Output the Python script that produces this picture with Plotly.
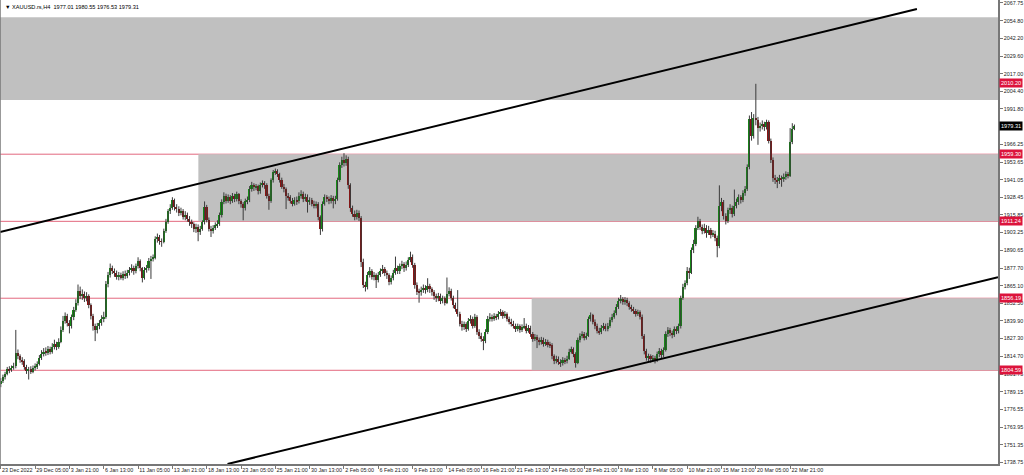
import plotly.graph_objects as go

# ---------------- data (H4 bars) ----------------
opens = [
    1794.5, 1797.0, 1799.5, 1802.0, 1805.5, 1804.5, 1806.5, 1807.5, 1817.0, 1814.5,
    1812.0, 1811.0, 1807.0, 1804.0, 1805.5, 1803.5, 1806.5, 1807.0, 1809.0, 1813.5,
    1816.0, 1818.0, 1817.0, 1819.5, 1818.0, 1821.0, 1823.5, 1821.5, 1825.0, 1833.5,
    1840.0, 1843.5, 1838.5, 1836.0, 1842.5, 1848.0, 1852.5, 1861.5, 1858.0, 1859.5,
    1856.5, 1857.5, 1851.0, 1843.5, 1836.0, 1833.5, 1836.0, 1838.5, 1841.5, 1843.0,
    1866.5, 1872.5, 1877.5, 1875.5, 1874.0, 1871.5, 1873.0, 1871.0, 1873.5, 1872.0,
    1874.5, 1876.5, 1878.0, 1875.5, 1879.0, 1882.5, 1877.5, 1871.0, 1876.5, 1877.5,
    1883.0, 1884.5, 1885.0, 1898.5, 1900.0, 1897.0, 1896.5, 1904.5, 1911.0, 1918.5,
    1921.0, 1926.5, 1921.5, 1920.0, 1917.5, 1918.5, 1914.5, 1916.0, 1913.0, 1910.5,
    1909.0, 1905.5, 1907.5, 1903.5, 1906.0, 1910.5, 1921.5, 1912.5, 1906.0, 1904.0,
    1906.5, 1908.5, 1909.5, 1915.5, 1925.0, 1929.5, 1926.0, 1928.5, 1926.0, 1929.5,
    1927.0, 1930.5, 1925.5, 1923.5, 1921.0, 1925.5, 1926.5, 1934.5, 1937.5, 1935.5,
    1936.5, 1933.0, 1937.5, 1938.5, 1937.0, 1929.5, 1925.5, 1940.5, 1946.5, 1947.5,
    1945.0, 1941.0, 1936.0, 1934.5, 1929.5, 1928.5, 1926.0, 1924.0, 1926.5, 1925.5,
    1929.5, 1931.0, 1927.5, 1929.0, 1925.0, 1926.5, 1924.0, 1922.5, 1923.5, 1914.0,
    1905.5, 1924.0, 1928.5, 1927.0, 1926.0, 1928.0, 1925.5, 1927.5, 1941.0, 1951.5,
    1955.0, 1953.0, 1956.0, 1937.0, 1920.5, 1916.5, 1914.0, 1917.5, 1913.5, 1882.0,
    1866.0, 1864.0, 1873.0, 1876.0, 1871.5, 1872.5, 1869.0, 1873.0, 1875.5, 1877.0,
    1874.0, 1872.5, 1868.0, 1870.5, 1874.5, 1877.5, 1875.5, 1879.0, 1880.5, 1877.5,
    1880.0, 1883.5, 1886.0, 1880.0, 1865.5, 1861.0, 1860.5, 1862.0, 1863.5, 1862.0,
    1865.0, 1862.5, 1860.5, 1857.5, 1856.0, 1858.0, 1854.5, 1856.0, 1853.0, 1859.5,
    1861.5, 1856.5, 1851.5, 1848.5, 1845.0, 1838.0, 1835.5, 1837.5, 1834.0, 1840.0,
    1841.5, 1836.5, 1842.5, 1832.0, 1829.5, 1827.0, 1825.5, 1832.0, 1841.5, 1843.0,
    1841.5, 1843.5, 1842.5, 1845.0, 1846.5, 1843.5, 1845.0, 1841.5, 1839.5, 1838.0,
    1836.5, 1834.0, 1836.0, 1833.5, 1835.5, 1836.5, 1833.0, 1835.0, 1830.5, 1827.0,
    1828.5, 1826.0, 1824.5, 1826.5, 1823.5, 1825.0, 1823.0, 1822.5, 1814.5, 1811.0,
    1813.0, 1810.5, 1809.5, 1812.0, 1811.0, 1813.0, 1818.0, 1819.5, 1816.0, 1810.0,
    1826.0, 1829.0, 1830.5, 1828.0, 1829.5, 1841.0, 1844.0, 1839.5, 1836.0, 1833.0,
    1832.0, 1835.0, 1836.5, 1834.0, 1836.5, 1840.5, 1843.0, 1845.5, 1850.0, 1854.5,
    1855.5, 1853.5, 1855.0, 1852.5, 1850.0, 1848.5, 1847.0, 1845.0, 1846.0, 1843.0,
    1829.0, 1818.5, 1813.5, 1814.5, 1812.5, 1813.5, 1812.0, 1816.0, 1818.5, 1815.5,
    1819.0, 1830.5, 1833.5, 1831.0, 1830.0, 1834.0, 1832.5, 1836.0, 1856.5, 1864.5,
    1867.0, 1876.0, 1874.5, 1890.5, 1895.0, 1906.5, 1911.5, 1907.0, 1904.5, 1906.5,
    1903.0, 1905.0, 1901.5, 1902.5, 1899.5, 1893.5, 1922.5, 1925.0, 1915.0, 1911.5,
    1919.0, 1921.0, 1916.5, 1922.5, 1925.0, 1928.5, 1926.5, 1931.5, 1934.5, 1950.0,
    1984.5, 1972.0, 1985.5, 1984.0, 1978.0, 1979.5, 1981.0, 1978.5, 1982.0, 1969.0,
    1955.5, 1942.0, 1941.0, 1940.0, 1942.5, 1941.5, 1943.0, 1945.0, 1944.0, 1968.0, 1977.01,
]
highs = [
    1799.0, 1801.5, 1803.5, 1807.0, 1807.5, 1808.0, 1810.0, 1833.5, 1819.5, 1816.0,
    1814.0, 1812.5, 1808.5, 1807.0, 1807.5, 1808.0, 1809.5, 1811.0, 1815.5, 1819.0,
    1820.5, 1821.0, 1822.0, 1821.5, 1824.0, 1826.5, 1825.0, 1827.5, 1836.0, 1843.5,
    1846.0, 1845.0, 1840.5, 1844.5, 1850.0, 1855.5, 1866.0, 1864.5, 1862.5, 1861.0,
    1860.5, 1859.0, 1852.5, 1845.0, 1838.0, 1838.5, 1840.5, 1844.0, 1846.5, 1868.5,
    1875.0, 1881.0, 1879.5, 1877.5, 1876.0, 1875.0, 1874.5, 1875.5, 1876.0, 1876.5,
    1878.5, 1880.5, 1879.5, 1881.0, 1885.5, 1884.0, 1878.5, 1878.5, 1880.0, 1885.0,
    1886.5, 1887.5, 1900.5, 1902.5, 1901.5, 1899.0, 1906.0, 1913.0, 1920.0, 1923.5,
    1928.5, 1927.5, 1923.5, 1922.0, 1921.0, 1920.0, 1918.5, 1917.5, 1915.0, 1912.5,
    1910.5, 1909.5, 1909.0, 1908.0, 1912.0, 1925.5, 1923.0, 1914.0, 1908.0, 1908.5,
    1910.5, 1912.0, 1917.5, 1927.0, 1932.0, 1931.0, 1930.5, 1930.0, 1931.5, 1931.0,
    1932.5, 1931.5, 1927.0, 1925.0, 1927.5, 1929.0, 1936.5, 1939.5, 1938.5, 1938.0,
    1937.5, 1939.0, 1940.5, 1940.0, 1938.5, 1931.0, 1942.0, 1948.0, 1949.0, 1948.5,
    1946.0, 1942.5, 1938.0, 1935.5, 1931.5, 1930.0, 1928.0, 1928.5, 1929.0, 1932.0,
    1933.5, 1932.5, 1931.0, 1930.5, 1928.5, 1928.0, 1926.0, 1925.5, 1925.0, 1915.5,
    1925.5, 1930.5, 1930.0, 1929.0, 1930.0, 1929.5, 1929.5, 1942.5, 1953.5, 1957.5,
    1960.0, 1958.5, 1957.5, 1938.5, 1922.5, 1919.0, 1919.5, 1919.0, 1915.0, 1884.5,
    1868.0, 1875.0, 1878.5, 1877.0, 1875.0, 1874.0, 1875.0, 1877.5, 1880.0, 1878.5,
    1876.0, 1874.0, 1872.5, 1876.5, 1886.0, 1879.5, 1881.0, 1883.0, 1882.0, 1882.5,
    1885.5, 1889.5, 1887.5, 1881.5, 1867.5, 1863.0, 1864.5, 1866.0, 1865.5, 1870.5,
    1866.5, 1864.0, 1862.0, 1859.5, 1860.0, 1859.5, 1858.0, 1857.5, 1871.0, 1864.0,
    1863.0, 1858.0, 1853.0, 1862.0, 1846.5, 1840.0, 1839.5, 1839.0, 1842.0, 1844.0,
    1843.0, 1845.0, 1844.0, 1834.0, 1831.5, 1829.0, 1834.0, 1843.5, 1845.5, 1844.5,
    1845.5, 1845.0, 1847.0, 1848.5, 1847.5, 1847.0, 1846.0, 1843.0, 1841.5, 1840.0,
    1838.0, 1838.0, 1837.5, 1837.5, 1842.0, 1838.0, 1837.0, 1836.5, 1832.0, 1830.5,
    1830.0, 1828.0, 1828.5, 1828.0, 1827.0, 1826.5, 1825.0, 1824.0, 1816.0, 1815.0,
    1814.5, 1812.5, 1814.0, 1813.5, 1815.0, 1820.0, 1821.5, 1821.0, 1817.5, 1828.0,
    1831.0, 1832.5, 1832.0, 1831.5, 1843.0, 1846.0, 1845.0, 1841.0, 1838.0, 1835.0,
    1837.0, 1838.5, 1838.0, 1838.5, 1842.5, 1845.0, 1847.5, 1852.0, 1856.5, 1858.5,
    1857.0, 1857.0, 1856.5, 1854.0, 1851.5, 1850.0, 1848.5, 1848.0, 1847.5, 1844.5,
    1830.5, 1820.0, 1816.5, 1816.0, 1815.5, 1815.0, 1818.0, 1820.5, 1820.0, 1821.0,
    1832.5, 1835.5, 1835.0, 1833.0, 1836.0, 1836.0, 1838.0, 1858.0, 1866.5, 1869.0,
    1878.5, 1878.0, 1892.5, 1898.0, 1908.5, 1914.5, 1913.0, 1909.0, 1909.5, 1908.5,
    1908.0, 1906.5, 1905.0, 1904.5, 1901.0, 1937.0, 1928.0, 1926.5, 1917.0, 1921.0,
    1923.5, 1922.5, 1934.0, 1927.5, 1930.5, 1930.0, 1933.5, 1936.5, 1952.0, 1987.0,
    1989.5, 1988.0, 2009.7, 1986.0, 1982.0, 1983.5, 1982.5, 1984.0, 1983.5, 1970.5,
    1957.0, 1944.5, 1943.0, 1944.5, 1944.0, 1945.5, 1947.0, 1946.5, 1978.0, 1981.5, 1980.55,
]
lows = [
    1792.5, 1795.5, 1798.0, 1801.0, 1802.5, 1803.5, 1805.0, 1806.0, 1812.5, 1810.0,
    1808.5, 1805.0, 1802.0, 1798.0, 1802.0, 1802.5, 1804.5, 1805.5, 1808.0, 1812.0,
    1814.5, 1815.0, 1815.5, 1816.0, 1816.5, 1819.5, 1819.0, 1820.0, 1824.0, 1832.0,
    1838.0, 1836.0, 1831.0, 1834.5, 1840.5, 1846.5, 1851.0, 1855.5, 1855.0, 1853.5,
    1854.0, 1849.0, 1841.0, 1833.0, 1825.5, 1831.0, 1834.0, 1836.5, 1839.0, 1841.5,
    1864.0, 1871.0, 1873.5, 1871.5, 1869.5, 1869.0, 1869.5, 1869.0, 1870.0, 1870.5,
    1872.5, 1874.5, 1873.0, 1874.0, 1877.5, 1875.5, 1867.5, 1869.5, 1874.5, 1876.0,
    1870.0, 1882.5, 1884.0, 1896.0, 1894.5, 1893.0, 1895.5, 1903.0, 1909.5, 1916.5,
    1919.5, 1919.0, 1917.5, 1915.0, 1915.5, 1912.5, 1912.0, 1911.0, 1908.0, 1906.5,
    1903.5, 1903.0, 1897.0, 1901.5, 1904.5, 1909.0, 1910.5, 1904.0, 1900.0, 1902.5,
    1905.0, 1906.5, 1908.0, 1914.0, 1923.5, 1924.0, 1924.5, 1923.5, 1924.5, 1925.0,
    1925.5, 1923.5, 1921.0, 1912.0, 1919.0, 1923.5, 1925.0, 1932.5, 1933.0, 1933.5,
    1930.5, 1931.0, 1935.5, 1934.5, 1927.5, 1919.5, 1924.5, 1939.0, 1944.5, 1943.0,
    1939.0, 1934.5, 1932.0, 1920.0, 1926.0, 1924.0, 1922.0, 1922.5, 1923.0, 1924.0,
    1927.5, 1925.0, 1925.5, 1917.5, 1923.0, 1922.0, 1920.5, 1920.5, 1912.0, 1901.5,
    1904.0, 1922.5, 1925.0, 1923.5, 1924.0, 1920.5, 1923.5, 1926.0, 1939.5, 1949.5,
    1950.5, 1951.0, 1934.5, 1918.0, 1914.5, 1912.0, 1912.5, 1911.5, 1878.5, 1863.5,
    1861.0, 1862.5, 1871.0, 1869.5, 1869.0, 1863.5, 1867.5, 1871.5, 1873.5, 1872.0,
    1870.0, 1865.5, 1866.0, 1869.0, 1873.0, 1873.5, 1873.5, 1877.0, 1875.0, 1876.0,
    1878.5, 1882.0, 1878.0, 1863.0, 1858.5, 1853.0, 1858.0, 1860.0, 1859.5, 1860.5,
    1860.0, 1858.0, 1855.0, 1853.5, 1854.0, 1852.0, 1852.5, 1851.0, 1852.0, 1857.5,
    1854.5, 1849.0, 1846.5, 1843.0, 1836.0, 1833.0, 1833.5, 1832.0, 1833.0, 1838.0,
    1834.5, 1835.0, 1830.0, 1827.0, 1825.0, 1819.0, 1824.0, 1830.5, 1839.5, 1839.5,
    1840.0, 1840.5, 1841.0, 1843.5, 1841.5, 1842.0, 1839.5, 1837.5, 1836.0, 1834.5,
    1832.0, 1832.5, 1831.5, 1832.0, 1834.0, 1831.0, 1831.5, 1828.5, 1825.0, 1825.5,
    1820.5, 1822.5, 1823.0, 1821.5, 1822.0, 1821.0, 1820.5, 1812.5, 1809.0, 1809.5,
    1808.5, 1807.0, 1808.0, 1809.0, 1809.5, 1812.0, 1816.5, 1814.0, 1806.5, 1809.0,
    1824.5, 1827.5, 1826.0, 1826.5, 1828.5, 1839.5, 1837.5, 1834.0, 1831.0, 1830.0,
    1830.5, 1833.0, 1832.5, 1832.5, 1835.0, 1839.0, 1841.5, 1844.0, 1848.5, 1852.5,
    1851.5, 1851.5, 1850.5, 1848.0, 1846.5, 1845.0, 1843.0, 1843.5, 1841.0, 1827.0,
    1816.0, 1811.5, 1811.0, 1810.0, 1810.5, 1809.5, 1810.5, 1814.0, 1813.0, 1814.0,
    1818.0, 1828.5, 1829.0, 1827.5, 1828.5, 1830.5, 1831.0, 1834.5, 1855.0, 1862.5,
    1865.5, 1870.0, 1873.5, 1888.5, 1893.5, 1905.0, 1905.0, 1902.0, 1902.5, 1899.5,
    1901.5, 1899.0, 1900.0, 1897.0, 1885.5, 1892.0, 1918.5, 1912.5, 1909.0, 1910.0,
    1916.5, 1914.0, 1915.0, 1920.5, 1923.0, 1924.0, 1925.0, 1929.5, 1933.0, 1948.5,
    1969.0, 1970.5, 1980.0, 1966.0, 1975.5, 1977.0, 1976.0, 1977.0, 1967.0, 1953.0,
    1939.5, 1938.0, 1935.0, 1938.0, 1936.0, 1939.5, 1941.0, 1942.0, 1943.0, 1966.5, 1976.53,
]
closes = [
    1797.0, 1799.5, 1802.0, 1805.5, 1804.5, 1806.5, 1807.5, 1817.0, 1814.5, 1812.0,
    1811.0, 1807.0, 1804.0, 1805.5, 1803.5, 1806.5, 1807.0, 1809.0, 1813.5, 1816.0,
    1818.0, 1817.0, 1819.5, 1818.0, 1821.0, 1823.5, 1821.5, 1825.0, 1833.5, 1840.0,
    1843.5, 1838.5, 1836.0, 1842.5, 1848.0, 1852.5, 1861.5, 1858.0, 1859.5, 1856.5,
    1857.5, 1851.0, 1843.5, 1836.0, 1833.5, 1836.0, 1838.5, 1841.5, 1843.0, 1866.5,
    1872.5, 1877.5, 1875.5, 1874.0, 1871.5, 1873.0, 1871.0, 1873.5, 1872.0, 1874.5,
    1876.5, 1878.0, 1875.5, 1879.0, 1882.5, 1877.5, 1871.0, 1876.5, 1877.5, 1883.0,
    1884.5, 1885.0, 1898.5, 1900.0, 1897.0, 1896.5, 1904.5, 1911.0, 1918.5, 1921.0,
    1926.5, 1921.5, 1920.0, 1917.5, 1918.5, 1914.5, 1916.0, 1913.0, 1910.5, 1909.0,
    1905.5, 1907.5, 1903.5, 1906.0, 1910.5, 1921.5, 1912.5, 1906.0, 1904.0, 1906.5,
    1908.5, 1909.5, 1915.5, 1925.0, 1929.5, 1926.0, 1928.5, 1926.0, 1929.5, 1927.0,
    1930.5, 1925.5, 1923.5, 1921.0, 1925.5, 1926.5, 1934.5, 1937.5, 1935.5, 1936.5,
    1933.0, 1937.5, 1938.5, 1937.0, 1929.5, 1925.5, 1940.5, 1946.5, 1947.5, 1945.0,
    1941.0, 1936.0, 1934.5, 1929.5, 1928.5, 1926.0, 1924.0, 1926.5, 1925.5, 1929.5,
    1931.0, 1927.5, 1929.0, 1925.0, 1926.5, 1924.0, 1922.5, 1923.5, 1914.0, 1905.5,
    1924.0, 1928.5, 1927.0, 1926.0, 1928.0, 1925.5, 1927.5, 1941.0, 1951.5, 1955.0,
    1953.0, 1956.0, 1937.0, 1920.5, 1916.5, 1914.0, 1917.5, 1913.5, 1882.0, 1866.0,
    1864.0, 1873.0, 1876.0, 1871.5, 1872.5, 1869.0, 1873.0, 1875.5, 1877.0, 1874.0,
    1872.5, 1868.0, 1870.5, 1874.5, 1877.5, 1875.5, 1879.0, 1880.5, 1877.5, 1880.0,
    1883.5, 1886.0, 1880.0, 1865.5, 1861.0, 1860.5, 1862.0, 1863.5, 1862.0, 1865.0,
    1862.5, 1860.5, 1857.5, 1856.0, 1858.0, 1854.5, 1856.0, 1853.0, 1859.5, 1861.5,
    1856.5, 1851.5, 1848.5, 1845.0, 1838.0, 1835.5, 1837.5, 1834.0, 1840.0, 1841.5,
    1836.5, 1842.5, 1832.0, 1829.5, 1827.0, 1825.5, 1832.0, 1841.5, 1843.0, 1841.5,
    1843.5, 1842.5, 1845.0, 1846.5, 1843.5, 1845.0, 1841.5, 1839.5, 1838.0, 1836.5,
    1834.0, 1836.0, 1833.5, 1835.5, 1836.5, 1833.0, 1835.0, 1830.5, 1827.0, 1828.5,
    1826.0, 1824.5, 1826.5, 1823.5, 1825.0, 1823.0, 1822.5, 1814.5, 1811.0, 1813.0,
    1810.5, 1809.5, 1812.0, 1811.0, 1813.0, 1818.0, 1819.5, 1816.0, 1810.0, 1826.0,
    1829.0, 1830.5, 1828.0, 1829.5, 1841.0, 1844.0, 1839.5, 1836.0, 1833.0, 1832.0,
    1835.0, 1836.5, 1834.0, 1836.5, 1840.5, 1843.0, 1845.5, 1850.0, 1854.5, 1855.5,
    1853.5, 1855.0, 1852.5, 1850.0, 1848.5, 1847.0, 1845.0, 1846.0, 1843.0, 1829.0,
    1818.5, 1813.5, 1814.5, 1812.5, 1813.5, 1812.0, 1816.0, 1818.5, 1815.5, 1819.0,
    1830.5, 1833.5, 1831.0, 1830.0, 1834.0, 1832.5, 1836.0, 1856.5, 1864.5, 1867.0,
    1876.0, 1874.5, 1890.5, 1895.0, 1906.5, 1911.5, 1907.0, 1904.5, 1906.5, 1903.0,
    1905.0, 1901.5, 1902.5, 1899.5, 1893.5, 1922.5, 1925.0, 1915.0, 1911.5, 1919.0,
    1921.0, 1916.5, 1922.5, 1925.0, 1928.5, 1926.5, 1931.5, 1934.5, 1950.0, 1984.5,
    1972.0, 1985.5, 1984.0, 1978.0, 1979.5, 1981.0, 1978.5, 1982.0, 1969.0, 1955.5,
    1942.0, 1941.0, 1940.0, 1942.5, 1941.5, 1943.0, 1945.0, 1944.0, 1968.0, 1977.0, 1979.31,
]

x_tick_pos = [0, 16, 32, 48, 64, 80, 96, 112, 128, 144, 160, 176, 192, 208,
              224, 240, 256, 272, 288, 304, 320, 336, 352, 368]
x_tick_text = ["23 Dec 2022", "29 Dec 05:00", "3 Jan 21:00", "6 Jan 13:00",
               "11 Jan 05:00", "13 Jan 21:00", "18 Jan 13:00", "23 Jan 05:00",
               "25 Jan 21:00", "30 Jan 13:00", "2 Feb 05:00", "6 Feb 21:00",
               "9 Feb 13:00", "14 Feb 05:00", "16 Feb 21:00", "21 Feb 13:00",
               "24 Feb 05:00", "28 Feb 21:00", "3 Mar 13:00", "8 Mar 05:00",
               "10 Mar 21:00", "15 Mar 13:00", "20 Mar 05:00", "22 Mar 21:00"]

y_tick_vals = [2067.75, 2054.80, 2042.20, 2029.60, 2017.00, 2004.40, 1991.80,
               1966.25, 1953.65, 1941.05, 1928.45, 1915.85, 1903.25, 1890.65,
               1877.70, 1865.10, 1852.50, 1839.90, 1827.30, 1814.70, 1801.75,
               1789.15, 1776.55, 1763.95, 1751.35, 1738.75]

level_prices = [2010.20, 1959.30, 1911.24, 1856.19, 1804.59]
level_labels = ["2010.20", "1959.30", "1911.24", "1856.19", "1804.59"]

zone_start = [-2.0, 92.1, 247.5]          # bar index where each grey zone begins
zone_top = [2057.4, 1959.30, 1856.19]
zone_bottom = [1998.1, 1911.24, 1804.59]

upper_trend_x = [-0.37, 427.1]
upper_trend_y = [1903.6, 2063.2]
lower_trend_x = [105.7, 464.9]
lower_trend_y = [1737.5, 1871.2]

last_price = 1979.31
header_text = "▼ XAUUSD.rs,H4  1977.01 1980.55 1976.53 1979.31"

x_range = [-0.37, 464.9]
y_range = [1737.5, 2069.7]

# ---------------- figure ----------------
FONT = "Liberation Sans, Arial, sans-serif"
n = len(closes)
idx = list(range(n))

wx, wy = [], []
for i in idx:
    wx += [i, i, None]
    wy += [lows[i], highs[i], None]

body_base = [min(o, c) for o, c in zip(opens, closes)]
body_len = [max(abs(c - o), 0.4) for o, c in zip(opens, closes)]
body_col = ["#168a16" if c >= o else "#8a1414" for o, c in zip(opens, closes)]

fig = go.Figure()
fig.add_trace(go.Scatter(x=wx, y=wy, mode="lines",
                         line=dict(color="#3a3a3a", width=1),
                         hoverinfo="skip", showlegend=False))
fig.add_trace(go.Bar(x=idx, y=body_len, base=body_base, width=0.75,
                     marker=dict(color=body_col, line=dict(width=0)),
                     hoverinfo="skip", showlegend=False))
fig.add_trace(go.Scatter(x=upper_trend_x, y=upper_trend_y, mode="lines",
                         line=dict(color="#000000", width=2),
                         hoverinfo="skip", showlegend=False))
fig.add_trace(go.Scatter(x=lower_trend_x, y=lower_trend_y, mode="lines",
                         line=dict(color="#000000", width=2),
                         hoverinfo="skip", showlegend=False))

shapes = []
for xs, top, bot in zip(zone_start, zone_top, zone_bottom):
    shapes.append(dict(type="rect", xref="x", yref="y", x0=xs, x1=x_range[1] + 5,
                       y0=bot, y1=top, fillcolor="#c0c0c0",
                       line=dict(width=0), layer="below"))
for p in level_prices:
    shapes.append(dict(type="line", xref="paper", yref="y", x0=0, x1=1,
                       y0=p, y1=p, line=dict(color="#e3687e", width=1),
                       layer="below"))
shapes.append(dict(type="line", xref="paper", yref="paper", x0=0, x1=0,
                   y0=0, y1=1, line=dict(color="#777777", width=1.5)))

annotations = []
for p, t in zip(level_prices, level_labels):
    annotations.append(dict(xref="paper", yref="y", x=1, y=p, xanchor="left",
                            yanchor="middle", xshift=1, text=t, showarrow=False,
                            bgcolor="#dc143c", borderpad=1,
                            font=dict(family=FONT, size=5.6, color="#ffffff")))
annotations.append(dict(xref="paper", yref="y", x=1, y=last_price, xanchor="left",
                        yanchor="middle", xshift=1, text=f"{last_price:.2f}",
                        showarrow=False, bgcolor="#000000", borderpad=1,
                        font=dict(family=FONT, size=5.6, color="#ffffff")))
annotations.append(dict(xref="paper", yref="paper", x=0, y=1, xanchor="left",
                        yanchor="top", xshift=3, yshift=-2, text=header_text,
                        showarrow=False,
                        font=dict(family=FONT, size=5.6, color="#000000")))

fig.update_layout(
    width=1024, height=475,
    margin=dict(l=0, r=26, t=0, b=11, autoexpand=False),
    paper_bgcolor="#ffffff", plot_bgcolor="#ffffff",
    showlegend=False, bargap=0, hovermode=False,
    shapes=shapes, annotations=annotations,
    xaxis=dict(range=x_range, showgrid=False, zeroline=False,
               showline=True, linecolor="#777777", linewidth=1.5,
               ticks="outside", ticklen=3, tickcolor="#777777",
               tickvals=x_tick_pos, ticktext=x_tick_text, tickangle=0,
               ticklabelposition="outside right", ticklabelstandoff=0,
               ticklabeloverflow="allow",
               tickfont=dict(family=FONT, size=5.4, color="#222222"),
               fixedrange=True),
    yaxis=dict(range=y_range, side="right", showgrid=False, zeroline=False,
               showline=True, linecolor="#777777", linewidth=1.5,
               ticks="outside", ticklen=3, tickcolor="#777777",
               tickvals=y_tick_vals, ticklabeloverflow="allow",
               ticktext=[f"{v:.2f}" for v in y_tick_vals],
               tickfont=dict(family=FONT, size=5.4, color="#222222"),
               fixedrange=True),
)

fig.write_html(
    "out.html",
    config={"displayModeBar": False},
    post_script="document.body.style.margin='0';document.body.style.overflow='hidden';",
)
